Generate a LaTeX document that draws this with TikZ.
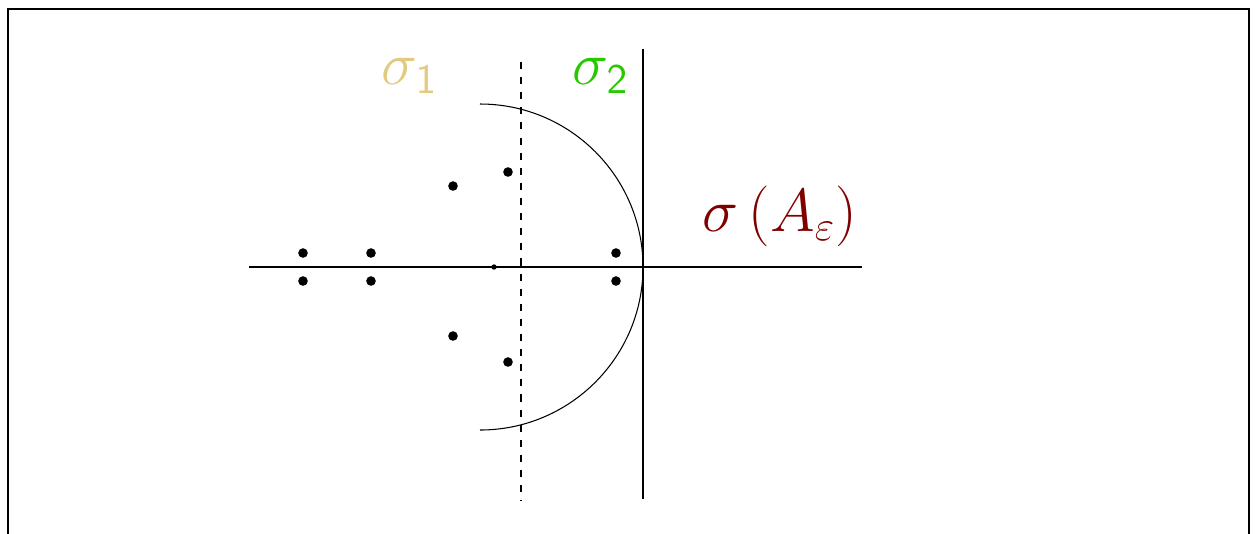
\documentclass[tikz,border=0pt]{standalone}
\usepackage{amsmath}

\definecolor{sigonecol}{RGB}{226,203,128}
\definecolor{sigtwocol}{RGB}{40,200,0}
\definecolor{specol}{RGB}{128,0,0}

\begin{document}
\begin{tikzpicture}[line width=0.3pt]
		\useasboundingbox (-6.43,-2.66) rectangle (6.17,2.67);
		\draw[line width=0.8pt] (-6.35,-3) -- (-6.35,2.58) -- (6.06,2.58) -- (6.06,-3);
		
		\coordinate (l) at (-3.94,0);
		\coordinate (r) at (2.19,0);
		\coordinate (t) at (0,2.18);
		\coordinate (b) at (0,-2.32);
		\coordinate (dt) at (-1.22,2.05);
		\coordinate (db) at (-1.22,-2.34);
		\coordinate (at) at (-1.63,1.63);
		
		\draw (l) -- (r);
		\draw (t) -- (b);
		\draw[dash pattern=on 2pt off 2.3pt] (dt) -- (db);
		\draw (at) arc (90:-90:1.63);
		
		\node (o) at (-1.49,0) {};
		\node (a1) at (-3.40,0.14) {};
		\node (a2) at (-3.40,-0.14) {};
		\node (b1) at (-2.72,0.14) {};
		\node (b2) at (-2.72,-0.14) {};
		\node (c1) at (-0.27,0.14) {};
		\node (c2) at (-0.27,-0.14) {};
		\node (d1) at (-1.90,0.81) {};
		\node (d2) at (-1.90,-0.69) {};
		\node (e1) at (-1.35,0.95) {};
		\node (e2) at (-1.35,-0.95) {};
		
		\draw[fill=black] (o) circle (0.6pt);
		\foreach \p in {a1,a2,b1,b2,c1,c2,d1,d2,e1,e2}
			\draw[fill=black] (\p) circle (1.2pt);
		
		\node[text=sigonecol] (s1) at (-2.33,1.91) {\LARGE $\sigma_{\mathsf{1}}$};
		\node[text=sigtwocol] (s2) at (-0.42,1.91) {\LARGE $\sigma_{\mathsf{2}}$};
		\node[text=specol] (sa) at (1.37,0.51) {\LARGE $\sigma\left(A_\varepsilon\right)$};
	\end{tikzpicture}
\end{document}
